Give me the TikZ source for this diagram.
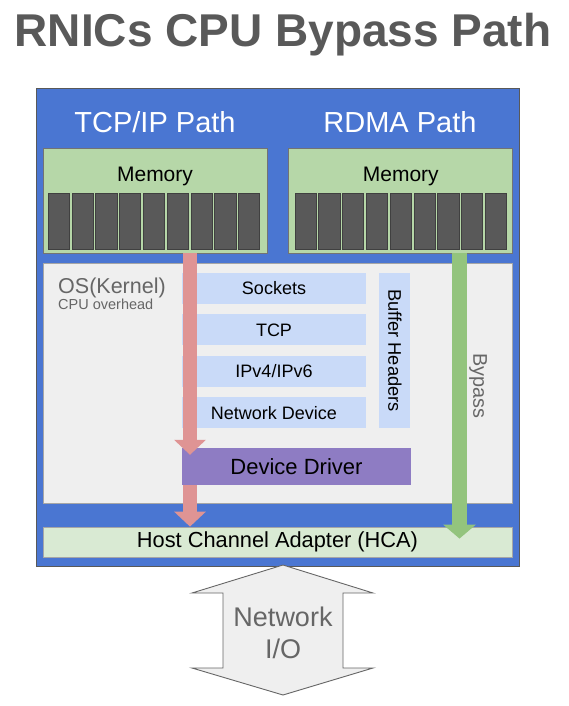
\documentclass[tikz,border=0pt]{standalone}
\usepackage{fontspec}
\setmainfont{Liberation Sans}
\usepackage{tikz}
\usetikzlibrary{arrows.meta, calc, positioning}
\definecolor{FrameBlue}{HTML}{4A76D2}
\definecolor{MemGreen}{HTML}{B6D7A8}
\definecolor{CellGray}{HTML}{595959}
\definecolor{OsGray}{HTML}{EFEFEF}
\definecolor{LayerBlue}{HTML}{C9DAF8}
\definecolor{DriverPurple}{HTML}{8E7CC3}
\definecolor{HcaGreen}{HTML}{D9EAD3}
\definecolor{RedFlow}{HTML}{DF9494}
\definecolor{GreenFlow}{HTML}{93C47D}
\definecolor{TextGray}{HTML}{666666}
\tikzstyle{block} = [rectangle, inner sep=0pt, text centered, draw=black!55, line width=0.8pt]
\tikzstyle{layer} = [rectangle, inner sep=0pt, text centered, fill=LayerBlue, font=\fontsize{18}{21}\selectfont]
\tikzstyle{cell} = [rectangle, inner sep=0pt, fill=CellGray, draw=black!75, line width=0.4pt, minimum width=21.2pt, minimum height=56pt]
\tikzstyle{redflow} = [draw=RedFlow, line width=14pt, -{Triangle[width=31pt, length=15pt]}]
\tikzstyle{greenflow} = [draw=GreenFlow, line width=15pt, -{Triangle[width=32pt, length=14pt]}]

\begin{document}
\begin{tikzpicture}[x=1pt, y=-1pt, node distance=10pt]
    \useasboundingbox (0,0) rectangle (569,706);
    \node (Title) [anchor=base, text=CellGray, font=\bfseries\fontsize{46}{50}\selectfont] at (283,47) {RNICs CPU Bypass Path};
    \node (Frame) [block, fill=FrameBlue, draw=black!65, minimum width=483pt, minimum height=478pt] at (277.5,327) {};
    \node (TcpLabel) [anchor=base, text=white, font=\fontsize{29}{32}\selectfont] at (155,132) {TCP/IP Path};
    \node (RdmaLabel) [anchor=base, text=white, font=\fontsize{29}{32}\selectfont] at (400,132) {RDMA Path};
    % memory boxes
    \node (MemTcp) [block, fill=MemGreen, minimum width=224pt, minimum height=105pt] at (155,200.5) {};
    \node (MemRdma) [block, fill=MemGreen, minimum width=224pt, minimum height=105pt, right = 21pt of MemTcp] {};
    \node [anchor=base, font=\fontsize{21}{24}\selectfont] at ($(MemTcp.north)+(0,34)$) {Memory};
    \node [anchor=base, font=\fontsize{21}{24}\selectfont] at ($(MemRdma.north)+(0,34)$) {Memory};
    \foreach \i in {0,...,8} {
        \node [cell] at ($(MemTcp.west)+(15.9+23.8*\i,20.5)$) {};
        \node [cell] at ($(MemRdma.west)+(16.9+23.8*\i,20.5)$) {};
    }
    % kernel
    \node (OsBox) [block, fill=OsGray, draw=black!35, minimum width=469pt, minimum height=240pt] at (277.5,383) {};
    \node [anchor=base west, inner sep=0pt, text=TextGray, font=\fontsize{21.5}{24}\selectfont] at (58,293) {OS(Kernel)};
    \node [anchor=base west, inner sep=0pt, text=TextGray, font=\fontsize{14.5}{17}\selectfont] at (58,309) {CPU overhead};
    \node (Sockets) [layer, minimum width=184pt, minimum height=31pt] at (274,288.5) {Sockets};
    \node (Tcp) [layer, minimum width=184pt, minimum height=31pt, below = of Sockets] {TCP};
    \node (Ip) [layer, minimum width=184pt, minimum height=31pt, below = of Tcp] {IPv4/IPv6};
    \node (NetDev) [layer, minimum width=184pt, minimum height=31pt, below = of Ip] {Network Device};
    \node (BufHead) [layer, minimum width=31pt, minimum height=155pt, anchor=north west] at ($(Sockets.north east)+(13,0)$) {};
    \node [rotate=-90, font=\fontsize{18.3}{21}\selectfont] at (BufHead.center) {Buffer Headers};
    \node (Driver) [rectangle, inner sep=0pt, fill=DriverPurple, minimum width=229pt, minimum height=37pt, font=\fontsize{22}{25}\selectfont] at (296.5,466.5) {Device Driver};
    \node (Hca) [block, fill=HcaGreen, draw=black!35, minimum width=469pt, minimum height=30pt, font=\fontsize{21.8}{25}\selectfont] at (277.5,542) {Host Channel Adapter (HCA)};
    % flows
    \coordinate (RedX) at (190,0);
    \coordinate (GreenX) at (459.5,0);
    \draw [redflow, shorten >=-7pt] (MemTcp.south -| RedX) -- (Driver.north -| RedX);
    \draw [redflow] (Driver.south -| RedX) -- (Hca.north -| RedX);
    \draw [greenflow, shorten >=-12pt] (MemRdma.south -| GreenX) -- (Hca.north -| GreenX);
    \node (Bypass) [rotate=-90, text=TextGray, font=\fontsize{19.8}{22}\selectfont] at (478,386) {Bypass};
    % network io
    \draw [fill=OsGray, draw=TextGray, line width=0.9pt] (283,565) -- (373,593) -- (343,593) -- (343,668) -- (373,668) -- (283,695) -- (192,668) -- (223,668) -- (223,593) -- (192,593) -- cycle;
    \node (NetIO) [align=center, text=TextGray, font=\fontsize{27}{32}\selectfont] at (283,633) {Network\\I/O};
\end{tikzpicture}
\end{document}
